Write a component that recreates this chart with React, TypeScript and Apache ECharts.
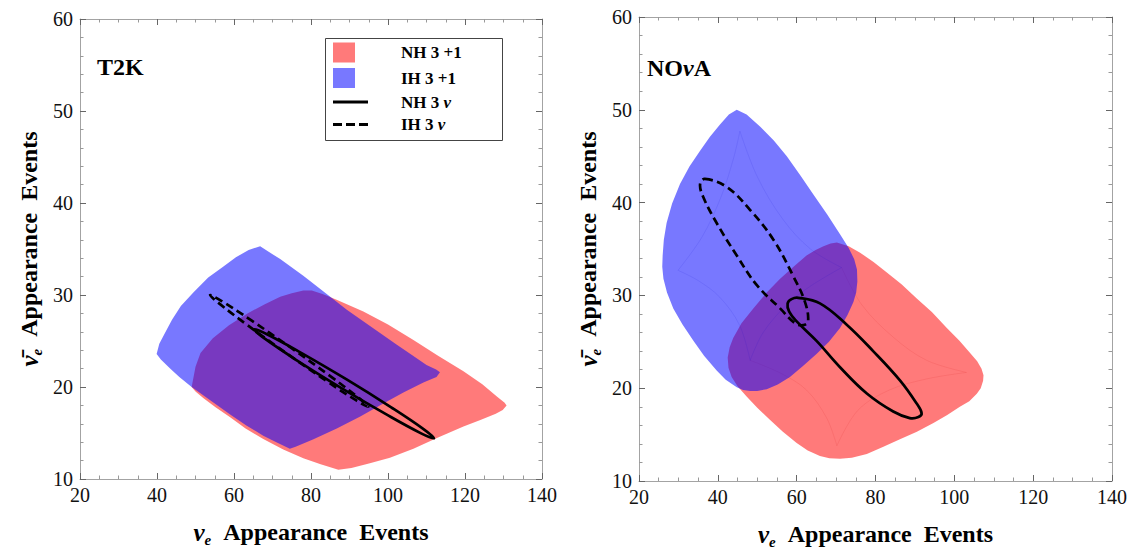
import React, { useEffect, useRef } from "react";
import * as echarts from "echarts";

// ---------- data ----------
const X_MIN = 20, X_MAX = 140, X_STEP = 20;
const Y_MIN = 10, Y_MAX = 60, Y_STEP = 10;

const SERIES_NAMES = ["NH 3+1", "IH 3+1", "NH 3ν", "IH 3ν"];

// T2K panel
const T2K_NH31: number[][] = [
  [49.0, 20.0], [50.0, 22.2], [51.3, 23.7], [54.5, 25.3], [58.7, 26.7], [63.5, 28.0], [68.0, 29.0],
  [72.0, 29.8], [75.0, 30.2], [78.0, 30.5], [80.2, 30.5], [83.0, 30.1], [86.5, 29.5],
  [93.6, 28.2], [100.0, 26.8], [106.6, 25.1], [113.0, 23.4], [119.6, 21.7], [124.5, 20.3],
  [128.2, 19.0], [130.3, 18.3], [130.8, 18.0], [129.8, 17.5], [128.0, 17.1], [124.0, 16.4],
  [119.6, 15.7], [113.0, 14.5], [106.6, 13.3], [100.5, 12.3], [95.3, 11.7], [90.5, 11.2],
  [87.1, 11.0], [82.5, 11.6], [78.0, 12.25], [72.8, 13.2], [67.6, 14.35], [63.0, 15.5],
  [59.0, 16.7], [55.2, 17.8], [52.0, 18.8], [50.0, 19.5],
];
const T2K_IH31: number[][] = [
  [66.8, 35.3], [69.0, 34.7], [72.0, 33.9], [78.0, 32.1], [83.5, 30.3], [89.3, 28.4],
  [95.8, 26.5], [102.3, 24.6], [106.5, 23.4], [110.0, 22.4], [112.5, 21.9], [113.5, 21.6],
  [112.6, 21.1], [109.2, 20.5], [104.0, 19.4], [98.8, 18.2], [92.8, 16.8], [86.7, 15.5],
  [80.5, 14.3], [76.0, 13.5], [74.5, 13.3], [71.0, 14.0], [67.6, 14.7], [63.3, 15.8],
  [59.0, 17.0], [54.0, 18.5], [49.0, 20.0], [45.8, 21.1], [43.4, 22.0], [41.0, 23.0],
  [39.9, 23.6], [40.6, 24.7], [42.1, 25.9], [43.9, 27.3], [46.2, 28.8], [49.5, 30.3],
  [53.3, 31.9], [56.9, 33.0], [60.5, 34.1], [63.8, 34.9],
];
const T2K_NH3NU: number[][] = [
  [111.95, 14.42], [108.47, 14.99], [99.69, 16.99], [87.9, 19.88], [76.31, 22.9], [68.0, 25.25],
  [65.19, 26.27], [68.68, 25.71], [77.45, 23.71], [89.25, 20.82], [100.83, 17.79], [109.14, 15.45],
];
const T2K_IH3NU: number[][] = [
  [94.88, 17.86], [91.87, 18.51], [84.16, 20.61], [73.82, 23.61], [63.58, 26.7], [56.29, 29.03],
  [53.77, 30.0], [56.81, 29.34], [64.52, 27.24], [74.86, 24.24], [85.09, 21.15], [92.39, 18.82],
];

// NOvA panel
const NOVA_NH31: number[][] = [
  [70.2, 35.7], [73.2, 35.3], [76.1, 34.6], [79.5, 33.6], [82.8, 32.5], [86.6, 31.2],
  [90.4, 29.7], [94.3, 28.2], [98.1, 26.5], [101.3, 25.1], [104.0, 23.8], [105.8, 22.9],
  [106.9, 22.1], [107.4, 21.4], [107.3, 20.8], [106.7, 20.0], [105.7, 19.4], [103.8, 18.6],
  [101.4, 18.0], [98.2, 17.1], [94.7, 16.25], [90.5, 15.3], [86.2, 14.5], [82.0, 13.7],
  [77.8, 12.9], [74.0, 12.5], [71.0, 12.4], [68.3, 12.45], [65.9, 12.7], [62.8, 13.3],
  [60.0, 14.1], [56.5, 15.3], [53.2, 16.6], [50.0, 17.9], [47.3, 19.1], [45.0, 20.2],
  [43.5, 21.2], [42.7, 22.2], [42.5, 23.3], [43.0, 24.4], [43.9, 25.4], [46.0, 27.0],
  [49.0, 28.6], [52.4, 30.3], [55.8, 31.8], [59.2, 33.1], [62.5, 34.3], [64.8, 34.9],
  [66.8, 35.3], [68.6, 35.6],
];
const NOVA_IH31: number[][] = [
  [44.8, 50.0], [47.3, 49.5], [50.7, 48.2], [54.2, 46.7], [57.5, 45.0], [61.0, 42.9],
  [64.2, 40.9], [67.8, 38.7], [71.0, 36.6], [73.2, 35.1], [74.6, 33.9], [75.3, 32.8],
  [75.4, 31.5], [75.1, 30.3], [74.4, 29.3], [72.9, 27.9], [71.0, 26.5], [68.2, 25.0],
  [65.1, 23.7], [61.6, 22.4], [58.3, 21.2], [55.2, 20.4], [52.4, 19.9], [50.0, 19.7],
  [48.2, 19.7], [46.4, 19.8], [44.8, 20.1], [42.0, 20.9], [39.7, 21.9], [36.5, 23.5],
  [33.8, 25.1], [31.0, 26.9], [28.7, 28.6], [27.1, 30.3], [26.2, 31.8], [25.9, 33.1],
  [26.0, 34.3], [26.3, 36.0], [27.0, 37.8], [28.4, 39.9], [30.4, 42.0], [32.8, 43.9],
  [35.5, 45.6], [38.0, 47.1], [40.5, 48.4], [42.8, 49.5],
];
const NOVA_NH3NU: number[][] = [
  [60.4, 29.74], [65.9, 29.14], [72.7, 26.84], [79.4, 24.0], [86.2, 20.84], [90.4, 18.37],
  [91.7, 17.31], [90.9, 16.89], [88.7, 16.78], [84.5, 17.49], [77.8, 19.43], [71.0, 22.26],
  [65.1, 25.07], [60.0, 27.2], [58.1, 28.25], [57.7, 29.14], [58.7, 29.6],
];
const NOVA_IH3NU: number[][] = [
  [36.7, 42.55], [42.2, 41.7], [48.2, 39.2], [54.1, 36.0], [59.1, 32.1], [62.1, 29.3],
  [62.9, 27.2], [61.7, 26.8], [59.6, 27.0], [55.8, 28.6], [49.9, 31.1], [44.8, 34.3],
  [39.7, 37.8], [36.3, 40.6], [35.5, 42.0],
];
// faint inner envelope curves (cusps) visible inside the NOvA regions
const NOVA_IH31_INNER: number[][][] = [
  [[29.9, 32.7], [36.0, 36.3], [40.8, 40.6], [44.0, 44.8], [45.6, 47.7]],
  [[45.6, 47.7], [50.0, 42.8], [56.5, 38.2], [63.5, 35.0], [71.4, 33.0]],
  [[71.4, 33.0], [63.5, 31.0], [57.5, 29.0], [51.5, 26.0], [48.2, 23.0]],
  [[48.2, 23.0], [45.5, 26.8], [40.5, 29.8], [35.0, 31.6], [29.9, 32.7]],
];
const NOVA_NH31_INNER: number[][][] = [
  [[48.2, 23.0], [56.0, 21.6], [62.5, 19.8], [67.6, 16.8], [70.2, 13.8]],
  [[70.2, 13.8], [75.5, 17.6], [83.5, 19.8], [93.0, 21.0], [103.1, 21.7]],
  [[103.1, 21.7], [93.0, 23.0], [84.5, 25.5], [76.5, 29.0], [71.4, 33.0]],
];

// ---------- styles ----------
const SERIF = "Liberation Serif";
const RED = "rgba(255,0,0,0.52)";
const BLUE = "rgba(0,0,255,0.53)";
const BLACK = "#000";

function region(name: string, data: number[][], color: string, g: number, z: number) {
  return {
    type: "custom",
    name,
    xAxisIndex: g * 2,
    yAxisIndex: g * 2,
    data,
    z,
    silent: true,
    itemStyle: { color },
    renderItem: (params: any, api: any) => {
      if (params.dataIndexInside !== 0) return null;
      const pts = data.map((p) => api.coord(p));
      return {
        type: "polygon",
        shape: { points: pts },
        style: { fill: color, stroke: null },
      };
    },
  };
}

function innerCurves(name: string, curves: number[][][], stroke: string, g: number, z: number) {
  return {
    type: "custom",
    name,
    xAxisIndex: g * 2,
    yAxisIndex: g * 2,
    data: curves.map((c) => c[0]),
    z,
    silent: true,
    renderItem: (params: any, api: any) => {
      const c = curves[params.dataIndexInside];
      return {
        type: "polyline",
        shape: { points: c.map((p) => api.coord(p)), smooth: 0.35 },
        style: { fill: null, stroke, lineWidth: 0.7 },
      };
    },
  };
}

function contour(name: string, data: number[][], dashed: boolean, g: number) {
  return {
    type: "custom",
    name,
    xAxisIndex: g * 2,
    yAxisIndex: g * 2,
    data,
    z: 5,
    silent: true,
    itemStyle: { color: BLACK },
    renderItem: (params: any, api: any) => {
      if (params.dataIndexInside !== 0) return null;
      const pts = data.map((p) => api.coord(p));
      return {
        type: "polygon",
        shape: { points: pts, smooth: 0.4 },
        style: {
          fill: null,
          stroke: BLACK,
          lineWidth: 2.7,
          lineDash: dashed ? [8, 4.5] : null,
        },
      };
    },
  };
}

const titleRich = {
  nu: { fontFamily: SERIF, fontStyle: "italic", fontWeight: "bold", fontSize: 25, color: BLACK, lineHeight: 30 },
  sub: { fontFamily: SERIF, fontStyle: "italic", fontWeight: "bold", fontSize: 15, color: BLACK, lineHeight: 14, verticalAlign: "bottom" },
  t: { fontFamily: SERIF, fontWeight: "bold", fontSize: 24, color: BLACK, lineHeight: 30 },
};

const SP = " \u00a0";

function xAxes(g: number) {
  const base = {
    gridIndex: g,
    type: "value",
    min: X_MIN,
    max: X_MAX,
    interval: X_STEP,
    splitLine: { show: false },
    axisLine: { show: true, onZero: false, lineStyle: { color: "#a3a3a3", width: 1 } },
    axisTick: { show: true, inside: true, length: 6, lineStyle: { color: "#666" } },
    minorTick: { show: true, splitNumber: 4, length: 3.5, lineStyle: { color: "#999" } },
  };
  return [
    {
      ...base,
      position: "bottom",
      axisLabel: { fontFamily: SERIF, fontSize: 20, color: "#111", margin: 6 },
      name: "{nu|ν}{sub|e}{t|" + SP + "Appearance" + SP + "Events}",
      nameLocation: "middle",
      nameGap: 38,
      nameTextStyle: { rich: titleRich },
    },
    { ...base, position: "top", axisLabel: { show: false } },
  ];
}

function yAxes(g: number) {
  const base = {
    gridIndex: g,
    type: "value",
    min: Y_MIN,
    max: Y_MAX,
    interval: Y_STEP,
    splitLine: { show: false },
    axisLine: { show: true, onZero: false, lineStyle: { color: "#a3a3a3", width: 1 } },
    axisTick: { show: true, inside: true, length: 6, lineStyle: { color: "#666" } },
    minorTick: { show: true, splitNumber: 5, length: 3.5, lineStyle: { color: "#999" } },
  };
  return [
    {
      ...base,
      position: "left",
      axisLabel: { fontFamily: SERIF, fontSize: 20, color: "#111", margin: 7 },
      name: "{nu|ν\u0304}{sub|e}{t|" + SP + "Appearance" + SP + "Events}",
      nameLocation: "middle",
      nameRotate: 90,
      nameGap: 36,
      nameTextStyle: { rich: titleRich },
    },
    { ...base, position: "right", axisLabel: { show: false } },
  ];
}

const legendText: Record<string, string> = {
  "NH 3+1": "{sp|}{t|NH 3 +1}",
  "IH 3+1": "{sp|}{t|IH 3 +1}",
  "NH 3ν": "{sp|}{t|NH 3 }{i|ν}",
  "IH 3ν": "{sp|}{t|IH 3 }{i|ν}",
};

const ICON_SQUARE = "path://M0,0H22V20H0ZM34,10H35";
const ICON_SOLID = "path://M0,0H35V3H0Z";
const ICON_DASH = "path://M0,0H9V3H0ZM13,0H22V3H13ZM26,0H35V3H26Z";

export default function App() {
  const ref = useRef<HTMLDivElement>(null);

  useEffect(() => {
    if (!ref.current) return;
    const chart = echarts.init(ref.current, null, { renderer: "svg" });
    const option: any = {
      animation: false,
      backgroundColor: "#fff",
      textStyle: { fontFamily: SERIF },
      title: [
        {
          text: "T2K",
          left: 97,
          top: 55,
          padding: 0,
          textStyle: { fontFamily: SERIF, fontWeight: "bold", fontSize: 24, color: BLACK },
        },
        {
          text: "{t|NO}{i|ν}{t|A}",
          left: 647,
          top: 56,
          padding: 0,
          textStyle: {
            rich: {
              t: { fontFamily: SERIF, fontWeight: "bold", fontSize: 24, color: BLACK },
              i: { fontFamily: SERIF, fontWeight: "bold", fontStyle: "italic", fontSize: 24, color: BLACK },
            },
          },
        },
      ],
      legend: {
        orient: "vertical",
        left: 333,
        top: 42.5,
        padding: 0,
        itemWidth: 35,
        itemHeight: 20,
        itemGap: 5.5,
        selectedMode: false,
        data: [
          { name: SERIES_NAMES[0], icon: ICON_SQUARE },
          { name: SERIES_NAMES[1], icon: ICON_SQUARE },
          { name: SERIES_NAMES[2], icon: ICON_SOLID },
          { name: SERIES_NAMES[3], icon: ICON_DASH },
        ],
        formatter: (n: string) => legendText[n] || n,
        textStyle: {
          fontFamily: SERIF,
          rich: {
            sp: { width: 28 },
            t: { fontFamily: SERIF, fontWeight: "bold", fontSize: 17, color: BLACK },
            i: { fontFamily: SERIF, fontWeight: "bold", fontStyle: "italic", fontSize: 17, color: BLACK },
          },
        },
      },
      graphic: [
        {
          type: "rect",
          left: 323,
          top: 36,
          shape: { width: 177, height: 102 },
          style: { fill: "none", stroke: "#444", lineWidth: 1 },
          z: 10,
          silent: true,
        },
      ],
      grid: [
        { left: 80, top: 19, width: 462, height: 460 },
        { left: 639, top: 17, width: 473, height: 472 },
      ],
      xAxis: [...xAxes(0), ...xAxes(1)],
      yAxis: [...yAxes(0), ...yAxes(1)],
      series: [
        region(SERIES_NAMES[0], T2K_NH31, RED, 0, 2),
        region(SERIES_NAMES[1], T2K_IH31, BLUE, 0, 3),
        contour(SERIES_NAMES[2], T2K_NH3NU, false, 0),
        contour(SERIES_NAMES[3], T2K_IH3NU, true, 0),
        region(SERIES_NAMES[0], NOVA_NH31, RED, 1, 2),
        innerCurves("NH 3+1 envelope", NOVA_NH31_INNER, "rgba(200,0,0,0.13)", 1, 2),
        region(SERIES_NAMES[1], NOVA_IH31, BLUE, 1, 3),
        innerCurves("IH 3+1 envelope", NOVA_IH31_INNER, "rgba(0,0,200,0.13)", 1, 3),
        contour(SERIES_NAMES[2], NOVA_NH3NU, false, 1),
        contour(SERIES_NAMES[3], NOVA_IH3NU, true, 1),
      ],
    };
    chart.setOption(option);
    return () => chart.dispose();
  }, []);

  return (
    <div
      ref={ref}
      style={{ position: "fixed", left: 0, top: 0, width: 1132, height: 554, background: "#fff" }}
    />
  );
}
